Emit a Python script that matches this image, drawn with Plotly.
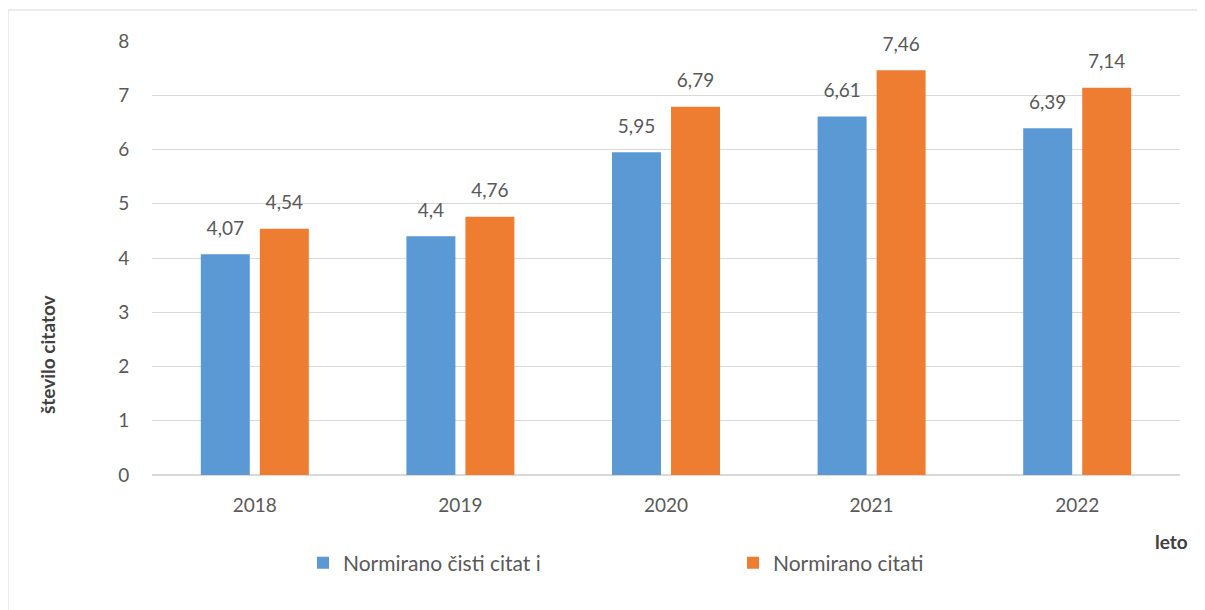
import plotly.graph_objects as go

# podatki
leta = ["2018", "2019", "2020", "2021", "2022"]
cisti_citati = [4.07, 4.4, 5.95, 6.61, 6.39]
citati = [4.54, 4.76, 6.79, 7.46, 7.14]

ime_cisti = "Normirano čisti citat i"
ime_citati = "Normirano citati"

MODRA = "#5A99D4"
ORANZNA = "#EE7C31"
SIVA_TXT = "#595959"
FONT = "Lato, Open Sans, sans-serif"

# stran ima 8 px odmika (body margin), zato je slika za toliko manjsa
OFF = 8
W, H = 1205 - OFF, 610 - OFF
# okvir risbe v pikslih zaslona
X0, X1, Y0, Y1 = 152, 1180, 41, 475
L, T = X0 - OFF, Y0 - OFF
R, B = OFF + W - X1, OFF + H - Y1
pw, ph = X1 - X0, Y1 - Y0


def px_x(x):
    return (x - X0) / pw


def px_y(y):
    return (Y1 - y) / ph


def oznaka(v):
    return f"{v:g}".replace(".", ",")


fig = go.Figure()

for ime, vrednosti, barva in [(ime_cisti, cisti_citati, MODRA),
                              (ime_citati, citati, ORANZNA)]:
    fig.add_trace(go.Bar(
        x=leta, y=vrednosti, name=ime,
        marker=dict(color=barva, line=dict(width=0)),
        offsetgroup=ime,
    ))

# oznake vrednosti nad stolpci
for ime, vrednosti in [(ime_cisti, cisti_citati), (ime_citati, citati)]:
    fig.add_trace(go.Scatter(
        x=leta, y=vrednosti, mode="markers+text",
        text=[oznaka(v) for v in vrednosti],
        textposition="top center",
        textfont=dict(size=19, color=SIVA_TXT, family=FONT),
        marker=dict(size=22, color="rgba(0,0,0,0)"),
        offsetgroup=ime, showlegend=False, hoverinfo="skip",
        cliponaxis=False,
    ))

fig.update_layout(
    width=W, height=H,
    margin=dict(l=L, r=R, t=T, b=B),
    paper_bgcolor="white", plot_bgcolor="white",
    barmode="group", bargap=0.426, bargroupgap=0.17,
    scattermode="group", scattergap=0.426,
    font=dict(family=FONT, color=SIVA_TXT, size=18),
    showlegend=True,
    legend=dict(
        orientation="h", x=px_x(303), y=px_y(563), yanchor="middle",
        xanchor="left", font=dict(size=21, color=SIVA_TXT),
        entrywidth=385, entrywidthmode="pixels",
        bgcolor="rgba(0,0,0,0)",
    ),
    xaxis=dict(
        showgrid=False, showline=False, zeroline=False,
        tickfont=dict(size=19, color=SIVA_TXT),
        ticks="outside", ticklen=13, tickcolor="rgba(0,0,0,0)",
    ),
    yaxis=dict(
        range=[0, 8], dtick=1, showgrid=True, gridcolor="#D9D9D9",
        gridwidth=1, zeroline=True, zerolinecolor="#D9D9D9",
        showline=False, tickfont=dict(size=19, color=SIVA_TXT),
        ticks="outside", ticklen=18, tickcolor="rgba(0,0,0,0)",
    ),
    annotations=[
        dict(text="<b>število citatov</b>", textangle=-90,
             xref="paper", yref="paper", x=px_x(47), y=px_y(355),
             xanchor="center", yanchor="middle",
             showarrow=False, font=dict(size=19, color="#404040")),
        dict(text="<b>leto</b>", xref="paper", yref="paper",
             x=px_x(1171), y=px_y(541), xanchor="center", yanchor="middle",
             showarrow=False, font=dict(size=19, color="#404040")),
    ],
    shapes=[
        dict(type="rect", xref="paper", yref="paper",
             x0=px_x(8), y0=px_y(640), x1=px_x(1240), y1=px_y(10),
             line=dict(color="#D9D9D9", width=1), layer="below"),
    ],
)

fig.write_html("out.html")
